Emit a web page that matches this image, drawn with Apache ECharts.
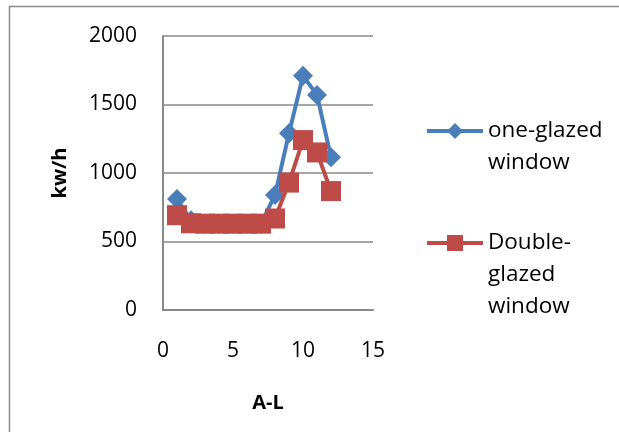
<!DOCTYPE html>
<html>
<head>
<meta charset="utf-8">
<script src="https://cdn.jsdelivr.net/npm/echarts@6/dist/echarts.min.js"></script>
<style>
  html, body { margin: 0; padding: 0; background: #fff; }
  #chart { width: 619px; height: 432px; }
</style>
</head>
<body>
<div id="chart"></div>
<script>
// Energy use per case A-L (numbered 1..12), kw/h
const cases = [1, 2, 3, 4, 5, 6, 7, 8, 9, 10, 11, 12];
const oneGlazed = [810, 655, 628, 628, 628, 628, 628, 840, 1290, 1710, 1570, 1115];
const doubleGlazed = [692, 633, 630, 630, 630, 630, 630, 668, 930, 1240, 1150, 868];
const yTicks = [0, 500, 1000, 1500, 2000];
const xTicks = [0, 5, 10, 15];

const seriesNames = ['one-glazed window', 'Double-glazed window'];
const legendText = {
  'one-glazed window': '\none-glazed\nwindow',
  'Double-glazed window': '\n\nDouble-\nglazed\nwindow'
};

const FONT = 'Open Sans';
const GRAY = '#898989';

const chart = echarts.init(document.getElementById('chart'), null, { renderer: 'canvas' });

function legendFor(name, top) {
  return {
    data: [name],
    left: 425,
    top: top,
    padding: 0,
    itemWidth: 56,
    itemHeight: 20,
    itemGap: 4,
    selectedMode: false,
    lineStyle: { width: 4 },
    formatter: n => legendText[n],
    textStyle: { fontFamily: FONT, fontSize: 22.5, lineHeight: 32, color: '#000' }
  };
}

chart.setOption({
  animation: false,
  backgroundColor: '#fff',
  graphic: [{
    type: 'polyline',
    shape: { points: [[9.5, 440], [9.5, 6.5], [640, 6.5]] },
    style: { stroke: GRAY, lineWidth: 1.5, fill: null },
    silent: true
  }],
  grid: { left: 163, right: 246, top: 36, bottom: 122 },
  legend: [legendFor(seriesNames[0], 131 - 48), legendFor(seriesNames[1], 243 - 80)],
  xAxis: {
    type: 'value',
    min: xTicks[0],
    max: xTicks[xTicks.length - 1],
    interval: xTicks[1] - xTicks[0],
    name: 'A-L',
    nameLocation: 'middle',
    nameGap: 83,
    nameTextStyle: { fontFamily: FONT, fontSize: 20, fontWeight: 'bold', color: '#000' },
    axisLine: { show: true, lineStyle: { color: GRAY, width: 2 } },
    axisTick: { show: false },
    splitLine: { show: false },
    axisLabel: { margin: 31, fontFamily: FONT, fontSize: 21, color: '#000' }
  },
  yAxis: {
    type: 'value',
    min: yTicks[0],
    max: yTicks[yTicks.length - 1],
    interval: yTicks[1] - yTicks[0],
    name: 'kw/h',
    nameLocation: 'middle',
    nameGap: 93,
    nameRotate: 90,
    nameTextStyle: { fontFamily: FONT, fontSize: 20, fontWeight: 'bold', color: '#000' },
    axisLine: { show: true, lineStyle: { color: GRAY, width: 2 } },
    axisTick: { show: false },
    splitLine: { show: true, lineStyle: { color: GRAY, width: 1.5 } },
    axisLabel: { margin: 26, fontFamily: FONT, fontSize: 21, color: '#000', formatter: v => String(v) }
  },
  series: [
    {
      name: seriesNames[0],
      type: 'line',
      data: cases.map((c, i) => [c, oneGlazed[i]]),
      symbol: 'diamond',
      symbolSize: 20,
      itemStyle: { color: '#4a7ebb' },
      lineStyle: { color: '#4a7ebb', width: 4 },
      z: 2
    },
    {
      name: seriesNames[1],
      type: 'line',
      data: cases.map((c, i) => [c, doubleGlazed[i]]),
      symbol: 'rect',
      symbolSize: 20,
      itemStyle: { color: '#be4b48' },
      lineStyle: { color: '#be4b48', width: 4 },
      z: 3
    }
  ]
});
</script>
</body>
</html>
